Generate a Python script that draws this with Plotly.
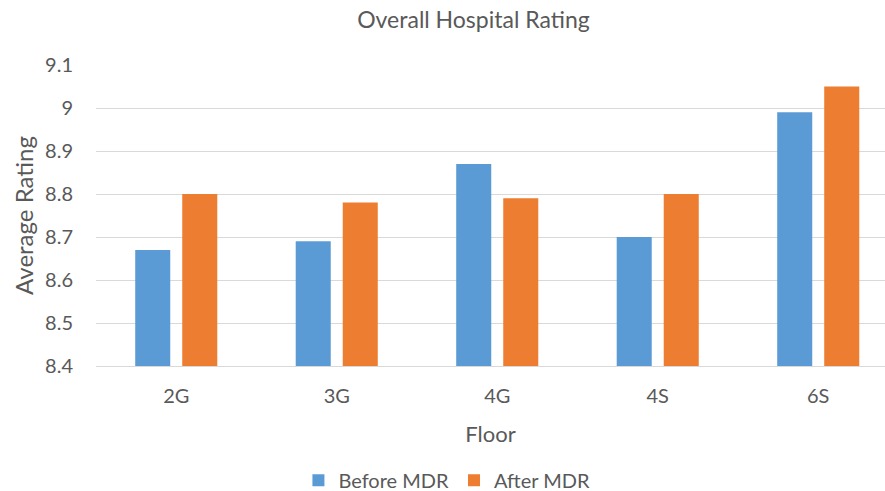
import plotly.graph_objects as go

# Average patient rating per hospital floor, before and after MDR rounds
floors = ["2G", "3G", "4G", "4S", "6S"]
before_mdr = [8.67, 8.69, 8.87, 8.70, 8.99]
after_mdr = [8.80, 8.78, 8.79, 8.80, 9.05]
y_ticks = [8.4, 8.5, 8.6, 8.7, 8.8, 8.9, 9.0, 9.1]
y_tick_text = ["8.4", "8.5", "8.6", "8.7", "8.8", "8.9", "9", "9.1"]

BLUE = "#5B9BD5"
ORANGE = "#ED7D31"
TEXT = "#595959"
FONT = "Lato, 'Open Sans', sans-serif"

fig = go.Figure()
fig.add_trace(go.Bar(name="Before MDR", x=floors, y=before_mdr,
                     marker=dict(color=BLUE, line=dict(width=0))))
fig.add_trace(go.Bar(name="After MDR", x=floors, y=after_mdr,
                     marker=dict(color=ORANGE, line=dict(width=0))))

fig.update_layout(
    width=885, height=491,
    margin=dict(l=96, r=0, t=65, b=125),
    paper_bgcolor="white", plot_bgcolor="white",
    barmode="group", bargap=0.414, bargroupgap=0.255,
    font=dict(family=FONT, color=TEXT, size=18),
    title=dict(text="Overall Hospital Rating", x=0.535, xanchor="center",
               y=0.96, yanchor="middle",
               font=dict(family=FONT, size=23, color=TEXT)),
    legend=dict(orientation="h", xref="container", yref="container",
                x=0.505, xanchor="center", y=0.022, yanchor="middle",
                font=dict(family=FONT, size=20, color=TEXT),
                itemwidth=30, traceorder="normal"),
    xaxis=dict(range=[-0.5, 4.416], showgrid=False,
               showline=True, linecolor="#D9D9D9", linewidth=1,
               ticks="", tickfont=dict(size=20, color=TEXT),
               ticklabelstandoff=12,
               title=dict(text="Floor", standoff=20,
                          font=dict(family=FONT, size=22, color=TEXT))),
    yaxis=dict(range=[8.4, 9.1], tickvals=y_ticks, ticktext=y_tick_text,
               showgrid=True, gridcolor="#D9D9D9", gridwidth=1,
               zeroline=False, showline=False, ticks="",
               ticklabelstandoff=22,
               tickfont=dict(size=20, color=TEXT),
               title=dict(text="Average Rating", standoff=4,
                          font=dict(family=FONT, size=24, color=TEXT))),
)

fig.write_html("out.html")
